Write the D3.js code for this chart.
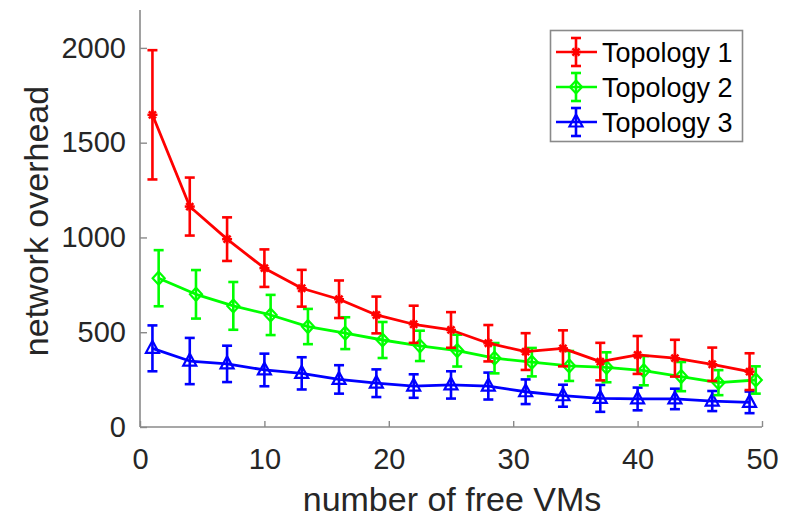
<!DOCTYPE html>
<html>
<head>
<meta charset="UTF-8">
<script src="https://cdn.jsdelivr.net/npm/d3@7"></script>
<style>
html, body { margin: 0; padding: 0; background: #fff; }
svg { display: block; font-family: "Liberation Sans", Arial, sans-serif; }
</style>
</head>
<body>
<script>
// x positions (topology 2 is drawn half a step to the right)
var xs1 = [1, 4, 7, 10, 13, 16, 19, 22, 25, 28, 31, 34, 37, 40, 43, 46, 49];
var xs2 = [1.5, 4.5, 7.5, 10.5, 13.5, 16.5, 19.5, 22.5, 25.5, 28.5, 31.5, 34.5, 37.5, 40.5, 43.5, 46.5, 49.5];

var topo1 = [1647, 1163, 991, 838, 732, 674, 591, 542, 512, 442, 398, 415, 345, 380, 363, 331, 292];
var err1  = [341, 153, 115, 99, 97, 99, 97, 98, 94, 96, 97, 95, 99, 100, 97, 88, 97];
var topo2 = [785, 700, 639, 591, 530, 495, 459, 428, 403, 363, 342, 322, 315, 297, 266, 234, 248];
var err2  = [148, 128, 126, 106, 93, 84, 95, 80, 84, 80, 75, 79, 79, 77, 77, 66, 72];
var topo3 = [415, 348, 333, 301, 283, 251, 231, 216, 222, 216, 186, 165, 151, 148, 148, 137, 130];
var err3  = [121, 122, 96, 86, 85, 75, 73, 62, 72, 71, 65, 58, 71, 60, 54, 53, 57];

var seriesNames = ["Topology 1", "Topology 2", "Topology 3"];
var xTicks = [0, 10, 20, 30, 40, 50];
var yTicks = [0, 500, 1000, 1500, 2000];

var width = 789, height = 518;
var x0 = 140, x1 = 762, yTop = 10, yBot = 427;

var series = [
  {name: seriesNames[0], xs: xs1, ys: topo1, err: err1, color: "#ff0000", marker: "star"},
  {name: seriesNames[1], xs: xs2, ys: topo2, err: err2, color: "#00ff00", marker: "diamond"},
  {name: seriesNames[2], xs: xs1, ys: topo3, err: err3, color: "#0000ff", marker: "triangle"}
];

var svg = d3.select("body").append("svg")
    .attr("width", width)
    .attr("height", height);

var x = d3.scaleLinear().domain([0, 50]).range([x0, x1]);
var y = d3.scaleLinear().domain([0, 2200]).range([yBot, yTop]);

var axisColor = "#8a8a8a", textColor = "#262626";

// axes (ticks point inward, like matlab)
var gx = svg.append("g").attr("transform", "translate(0," + yBot + ")")
    .call(d3.axisBottom(x).tickValues(xTicks).tickFormat(d3.format("d"))
      .tickSize(-6).tickSizeOuter(0).tickPadding(14));
var gy = svg.append("g").attr("transform", "translate(" + x0 + ",0)")
    .call(d3.axisLeft(y).tickValues(yTicks).tickFormat(d3.format("d"))
      .tickSize(-7).tickSizeOuter(0).tickPadding(14));

[gx, gy].forEach(function(g) {
  g.select(".domain").attr("stroke", axisColor).attr("stroke-width", 1.6);
  g.selectAll(".tick line").attr("stroke", axisColor).attr("stroke-width", 1.4);
  g.selectAll(".tick text").attr("fill", textColor).attr("font-size", 29)
    .attr("font-family", "Liberation Sans, Arial, sans-serif");
});
gx.selectAll(".tick text").attr("dy", "0.71em").attr("y", 21);
gx.select(".domain").attr("d", "M" + x0 + ",0H" + x1);
gy.select(".domain").attr("d", "M0," + yBot + "V" + yTop);

// axis labels
svg.append("text")
    .attr("x", (x0 + x1) / 2 + 1)
    .attr("y", 511)
    .attr("text-anchor", "middle")
    .attr("font-size", 34)
    .attr("fill", textColor)
    .text("number of free VMs");

svg.append("text")
    .attr("transform", "translate(48,221) rotate(-90)")
    .attr("text-anchor", "middle")
    .attr("font-size", 34)
    .attr("fill", textColor)
    .text("network overhead");

function drawMarker(g, type, color, cx, cy) {
  if (type == "star") {
    var r = 5;
    for (var k = 0; k < 4; k++) {
      var a = k * Math.PI / 4;
      g.append("line")
        .attr("x1", cx - r * Math.cos(a)).attr("y1", cy - r * Math.sin(a))
        .attr("x2", cx + r * Math.cos(a)).attr("y2", cy + r * Math.sin(a))
        .attr("stroke", color).attr("stroke-width", 2.5);
    }
    g.append("circle").attr("cx", cx).attr("cy", cy).attr("r", 3).attr("fill", color);
  } else if (type == "diamond") {
    g.append("path")
      .attr("d", "M" + cx + "," + (cy - 6.5) + "L" + (cx + 6) + "," + cy + "L" + cx + "," + (cy + 6.5) + "L" + (cx - 6) + "," + cy + "Z")
      .attr("fill", "none").attr("stroke", color).attr("stroke-width", 2.2);
  } else {
    g.append("path")
      .attr("d", "M" + cx + "," + (cy - 7.5) + "L" + (cx + 6.5) + "," + (cy + 4.5) + "L" + (cx - 6.5) + "," + (cy + 4.5) + "Z")
      .attr("fill", "none").attr("stroke", color).attr("stroke-width", 2.2);
  }
}

var line = d3.line().x(function(d) { return x(d[0]); }).y(function(d) { return y(d[1]); });
var cap = 5;

// draw blue first, red on top
series.slice().reverse().forEach(function(s) {
  var g = svg.append("g");
  var pts = s.xs.map(function(v, i) { return [v, s.ys[i], s.err[i]]; });

  pts.forEach(function(p) {
    var cx = x(p[0]), top = y(p[1] + p[2]), bot = y(p[1] - p[2]);
    g.append("line").attr("x1", cx).attr("x2", cx).attr("y1", top).attr("y2", bot)
      .attr("stroke", s.color).attr("stroke-width", 2.6);
    g.append("line").attr("x1", cx - cap).attr("x2", cx + cap).attr("y1", top).attr("y2", top)
      .attr("stroke", s.color).attr("stroke-width", 2.6);
    g.append("line").attr("x1", cx - cap).attr("x2", cx + cap).attr("y1", bot).attr("y2", bot)
      .attr("stroke", s.color).attr("stroke-width", 2.6);
  });

  g.append("path").datum(pts).attr("d", line)
    .attr("fill", "none").attr("stroke", s.color).attr("stroke-width", 2.8)
    .attr("stroke-linejoin", "round");

  pts.forEach(function(p) { drawMarker(g, s.marker, s.color, x(p[0]), y(p[1])); });
});

// legend
var leg = svg.append("g");
leg.append("rect")
    .attr("x", 550.5).attr("y", 30.5).attr("width", 192).attr("height", 111)
    .attr("fill", "#fff").attr("stroke", axisColor).attr("stroke-width", 1.6);

series.forEach(function(s, i) {
  var cy = 52 + i * 35, cx = 576;
  leg.append("line").attr("x1", 556).attr("x2", 597).attr("y1", cy).attr("y2", cy)
    .attr("stroke", s.color).attr("stroke-width", 2.6);
  leg.append("line").attr("x1", cx).attr("x2", cx).attr("y1", cy - 14).attr("y2", cy + 14)
    .attr("stroke", s.color).attr("stroke-width", 2.6);
  leg.append("line").attr("x1", cx - 5).attr("x2", cx + 5).attr("y1", cy - 14).attr("y2", cy - 14)
    .attr("stroke", s.color).attr("stroke-width", 2.6);
  leg.append("line").attr("x1", cx - 5).attr("x2", cx + 5).attr("y1", cy + 14).attr("y2", cy + 14)
    .attr("stroke", s.color).attr("stroke-width", 2.6);
  drawMarker(leg, s.marker, s.color, cx, cy);
  leg.append("text")
    .attr("x", 602).attr("y", cy + 9.5)
    .attr("font-size", 27)
    .attr("fill", "#000")
    .text(s.name);
});
</script>
</body>
</html>
